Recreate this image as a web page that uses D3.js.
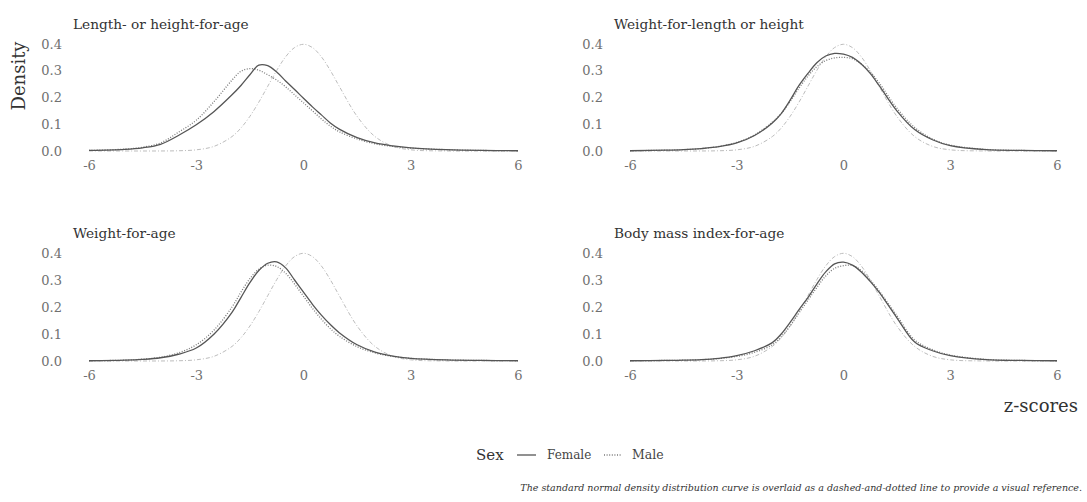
<!DOCTYPE html>
<html><head><meta charset="utf-8">
<script src="https://cdn.jsdelivr.net/npm/d3@7"></script>
<style>body{margin:0;background:#fff;}svg{display:block;font-family:"DejaVu Serif",serif;}</style>
</head><body><svg id="c" width="1087" height="502"></svg>
<script>
const zGrid = [-6,-5,-4.5,-4,-3.5,-3,-2.5,-2,-1.75,-1.5,-1.25,-1,-0.75,-0.5,-0.25,0,0.25,0.5,0.75,1,1.5,2,2.5,3,4,5,6];
const normalRef = [0,0,0,0.0001,0.0009,0.0044,0.0175,0.054,0.086,0.1295,0.1826,0.242,0.3011,0.3521,0.3867,0.3989,0.3867,0.3521,0.3011,0.242,0.1295,0.054,0.0175,0.0044,0.0001,0,0];
const panelTitles = ["Length- or height-for-age","Weight-for-length or height","Weight-for-age","Body mass index-for-age"];
const femaleLHA = [0.002,0.006,0.012,0.025,0.058,0.098,0.148,0.21,0.245,0.285,0.321,0.319,0.295,0.262,0.23,0.197,0.165,0.135,0.105,0.082,0.05,0.03,0.019,0.012,0.005,0.002,0.001];
const maleLHA   = [0.002,0.007,0.014,0.03,0.07,0.115,0.185,0.265,0.298,0.308,0.302,0.285,0.265,0.24,0.21,0.18,0.15,0.12,0.093,0.072,0.045,0.027,0.017,0.011,0.005,0.002,0.001];
const femaleWLH = [0.001,0.003,0.005,0.009,0.016,0.03,0.058,0.105,0.14,0.19,0.245,0.29,0.33,0.355,0.365,0.362,0.35,0.325,0.29,0.245,0.15,0.08,0.042,0.02,0.005,0.002,0.001];
const maleWLH   = [0.001,0.003,0.005,0.009,0.017,0.032,0.06,0.108,0.14,0.185,0.235,0.28,0.315,0.338,0.348,0.35,0.345,0.325,0.295,0.255,0.16,0.088,0.045,0.022,0.006,0.002,0.001];
const femaleWA  = [0.001,0.003,0.006,0.012,0.025,0.048,0.1,0.18,0.235,0.29,0.335,0.362,0.367,0.345,0.3,0.255,0.21,0.17,0.135,0.105,0.06,0.033,0.018,0.01,0.004,0.002,0.001];
const maleWA    = [0.001,0.003,0.007,0.014,0.03,0.06,0.115,0.2,0.255,0.305,0.34,0.355,0.35,0.325,0.285,0.24,0.195,0.155,0.12,0.092,0.053,0.03,0.017,0.01,0.004,0.002,0.001];
const femaleBMI = [0.001,0.002,0.003,0.005,0.01,0.02,0.038,0.068,0.1,0.143,0.19,0.235,0.285,0.33,0.36,0.366,0.355,0.33,0.295,0.255,0.16,0.07,0.038,0.02,0.005,0.002,0.001];
const maleBMI   = [0.001,0.002,0.003,0.005,0.009,0.017,0.032,0.06,0.09,0.13,0.178,0.225,0.272,0.315,0.343,0.353,0.354,0.335,0.3,0.26,0.168,0.078,0.042,0.022,0.006,0.002,0.001];
const xTicks = [-6,-3,0,3,6];
const xTickLabels = ["-6","-3","0","3","6"];
const yTicks = [0,0.1,0.2,0.3,0.4];
const yTickLabels = ["0.0","0.1","0.2","0.3","0.4"];
const legendLabels = ["Female","Male"];

const femaleSeries = [femaleLHA,femaleWLH,femaleWA,femaleBMI];
const maleSeries = [maleLHA,maleWLH,maleWA,maleBMI];

const svg = d3.select("#c");
const panels = [
  {x0:89,x1:518,y0:151,y1:44},
  {x0:630,x1:1057,y0:151,y1:44},
  {x0:89,x1:518,y0:361,y1:253},
  {x0:630,x1:1057,y0:361,y1:253}
];
const tickCol = "#707070";
const FONT = "DejaVu Serif";

panels.forEach((p,i)=>{
  const x = d3.scaleLinear().domain([-6,6]).range([p.x0,p.x1]);
  const y = d3.scaleLinear().domain([0,0.4]).range([p.y0,p.y1]);
  const g = svg.append("g");
  g.append("text").attr("x",p.x0-16).attr("y",p.y1-15).attr("font-size",13.7).attr("fill","#333").text(panelTitles[i]);
  const xa = g.append("g").attr("transform",`translate(0,${p.y0+6})`)
    .call(d3.axisBottom(x).tickValues(xTicks).tickSize(0).tickPadding(4).tickFormat((d,k)=>xTickLabels[k]));
  xa.select(".domain").remove();
  xa.selectAll("text").attr("font-family",FONT).attr("font-size",13).attr("fill",tickCol);
  const ya = g.append("g").attr("transform",`translate(${p.x0-27},0)`)
    .call(d3.axisLeft(y).tickValues(yTicks).tickSize(0).tickPadding(0).tickFormat((d,k)=>yTickLabels[k]));
  ya.select(".domain").remove();
  ya.selectAll("text").attr("font-family",FONT).attr("font-size",13).attr("fill",tickCol);

  const line = d3.line().x((d,j)=>x(zGrid[j])).y(d=>y(d)).curve(d3.curveCatmullRom.alpha(0.5));
  g.append("path").attr("d",line(normalRef)).attr("fill","none").attr("stroke","#bdbdbd").attr("stroke-width",1).attr("stroke-dasharray","4,2,1,2");
  g.append("path").attr("d",line(maleSeries[i])).attr("fill","none").attr("stroke","#7a7a7a").attr("stroke-width",1.3).attr("stroke-dasharray","1,1.6");
  g.append("path").attr("d",line(femaleSeries[i])).attr("fill","none").attr("stroke","#555").attr("stroke-width",1.3);
});

svg.append("text").attr("transform","translate(25,76) rotate(-90)").attr("text-anchor","middle").attr("font-size",18).attr("fill","#333").text("Density");
svg.append("text").attr("x",1078).attr("y",412).attr("text-anchor","end").attr("font-size",18).attr("fill","#333").text("z-scores");

const lg = svg.append("g");
lg.append("text").attr("x",476).attr("y",460).attr("font-size",15).attr("fill","#333").text("Sex");
lg.append("line").attr("x1",517).attr("x2",536).attr("y1",455).attr("y2",455).attr("stroke","#555").attr("stroke-width",1.3);
lg.append("text").attr("x",547).attr("y",459).attr("font-size",12).attr("fill","#444").text(legendLabels[0]);
lg.append("line").attr("x1",604).attr("x2",621).attr("y1",455).attr("y2",455).attr("stroke","#7a7a7a").attr("stroke-width",1.3).attr("stroke-dasharray","1,1.6");
lg.append("text").attr("x",632).attr("y",459).attr("font-size",12.5).attr("fill","#444").text(legendLabels[1]);

svg.append("text").attr("x",1082).attr("y",491).attr("text-anchor","end").attr("font-size",9.5).attr("font-style","italic").attr("fill","#333")
  .text("The standard normal density distribution curve is overlaid as a dashed-and-dotted line to provide a visual reference.");
</script></body></html>
